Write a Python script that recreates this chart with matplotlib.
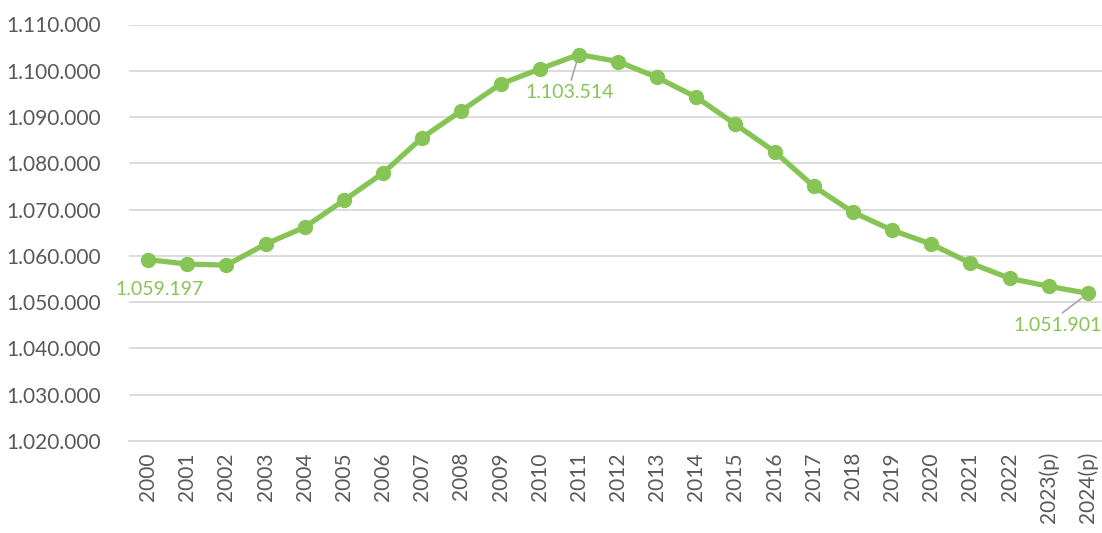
import matplotlib.pyplot as plt
from matplotlib.ticker import FuncFormatter

# Data
years = ['2000', '2001', '2002', '2003', '2004', '2005', '2006', '2007', '2008',
         '2009', '2010', '2011', '2012', '2013', '2014', '2015', '2016', '2017',
         '2018', '2019', '2020', '2021', '2022', '2023(p)', '2024(p)']
values = [1059197, 1058230, 1058000, 1062550, 1066200, 1072000, 1077900, 1085550,
          1091360, 1097130, 1100370, 1103514, 1102000, 1098560, 1094300, 1088430,
          1082520, 1075020, 1069440, 1065560, 1062540, 1058450, 1055150, 1053430,
          1051901]
labelled = {0: (12, -30), 11: (-9, -38), 24: (-30, -32)}  # index -> text offset in px

green = '#86C455'
grey = '#595959'

plt.rcParams['font.family'] = ['Lato', 'DejaVu Sans']

fig = plt.figure(figsize=(11.02, 5.33), dpi=100)
W, H = 1102, 533
left, right, top, bottom = 128.5, 1107.5, 24.5, 441
ax = fig.add_axes([left / W, 1 - bottom / H, (right - left) / W, (bottom - top) / H])

x = list(range(len(years)))
ax.plot(x, values, color=green, lw=3.8, marker='o', ms=10, zorder=3, clip_on=False)

ax.set_xlim(-0.5, len(years) - 0.5)
ax.set_ylim(1020000, 1110000)
ax.set_yticks(range(1020000, 1110001, 10000))
ax.yaxis.set_major_formatter(FuncFormatter(lambda v, p: f'{int(v):,}'.replace(',', '.')))
ax.set_xticks(x)
ax.set_xticklabels(years, rotation=90)

ax.grid(axis='y', color='#D9D9D9', lw=1.3)
ax.set_axisbelow(True)
for s in ['top', 'right', 'left']:
    ax.spines[s].set_visible(False)
ax.spines['bottom'].set_color('#D9D9D9')
ax.spines['bottom'].set_linewidth(1.3)
ax.tick_params(length=0, labelsize=15, labelcolor=grey)
ax.tick_params(axis='y', pad=20)
ax.tick_params(axis='x', pad=8)

for i, (dx, dy) in labelled.items():
    txt = f'{values[i]:,}'.replace(',', '.')
    ax.annotate(txt, (i, values[i]), xytext=(dx * 0.72, dy * 0.72),
                textcoords='offset points', ha='center', va='center',
                color=green, fontsize=14)
    if i != 0:
        ax.annotate('', (i, values[i]), xytext=(dx * 0.72 * 0.85, (dy * 0.72) + 9),
                    textcoords='offset points',
                    arrowprops=dict(arrowstyle='-', color='#A6A6A6', lw=1.2,
                                    shrinkA=0, shrinkB=6))

fig.savefig('out.png', dpi=100)
